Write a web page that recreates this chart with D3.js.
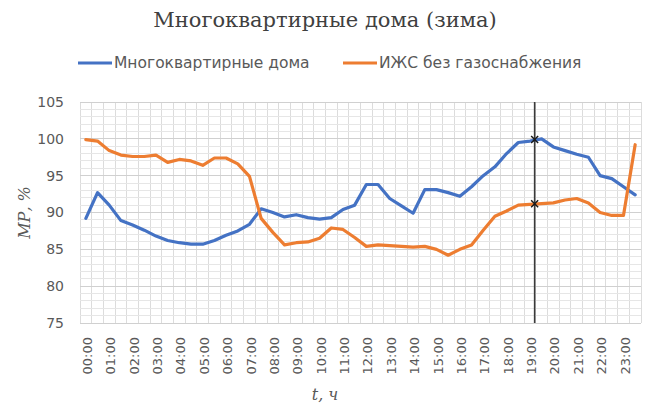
<!DOCTYPE html>
<html>
<head>
<meta charset="utf-8">
<script src="https://cdn.jsdelivr.net/npm/d3@7"></script>
<style>
  html, body { margin: 0; padding: 0; background: #fff; }
  svg { display: block; }
</style>
</head>
<body>
<svg id="chart" width="650" height="405"></svg>
<script>
// Half-hour time slots of the day
const times = [
  "00:00","00:30","01:00","01:30","02:00","02:30","03:00","03:30",
  "04:00","04:30","05:00","05:30","06:00","06:30","07:00","07:30",
  "08:00","08:30","09:00","09:30","10:00","10:30","11:00","11:30",
  "12:00","12:30","13:00","13:30","14:00","14:30","15:00","15:30",
  "16:00","16:30","17:00","17:30","18:00","18:30","19:00","19:30",
  "20:00","20:30","21:00","21:30","22:00","22:30","23:00","23:30"
];

// Load profile, % of maximum
const apartments = [
  89.2, 92.7, 91.0, 88.9, 88.3, 87.6, 86.8, 86.2, 85.9, 85.7, 85.7, 86.2,
  86.9, 87.5, 88.4, 90.5, 90.0, 89.4, 89.7, 89.3, 89.1, 89.3, 90.4, 91.0,
  93.8, 93.8, 91.9, 90.9, 89.9, 93.1, 93.1, 92.7, 92.2, 93.5, 95.0, 96.2,
  98.0, 99.5, 99.7, 100.0, 98.9, 98.4, 97.9, 97.5, 95.0, 94.6, 93.5, 92.4
];
const privateHouses = [
  99.9, 99.7, 98.4, 97.8, 97.6, 97.6, 97.8, 96.8, 97.2, 97.0, 96.4, 97.4,
  97.4, 96.6, 94.9, 89.2, 87.3, 85.6, 85.9, 86.0, 86.5, 87.9, 87.7, 86.6,
  85.4, 85.6, 85.5, 85.4, 85.3, 85.4, 85.0, 84.2, 85.0, 85.6, 87.6, 89.5,
  90.2, 91.0, 91.1, 91.2, 91.3, 91.7, 91.9, 91.3, 90.0, 89.6, 89.6, 99.2
];

const seriesNames = ["Многоквартирные дома", "ИЖС без газоснабжения"];
const seriesColors = ["#4472C4", "#ED7D31"];

// Hour labels on the time axis
const hourLabels = [
  "00:00","01:00","02:00","03:00","04:00","05:00","06:00","07:00",
  "08:00","09:00","10:00","11:00","12:00","13:00","14:00","15:00",
  "16:00","17:00","18:00","19:00","20:00","21:00","22:00","23:00"
];
const yTicks = [75, 80, 85, 90, 95, 100, 105];

// Evening peak marker
const peakHour = 19.2;
const peakValues = [99.9, 91.2];

const toHours = s => { const [h, m] = s.split(":").map(Number); return h + m / 60; };

const svg = d3.select("#chart");
const W = 650, H = 405;
const plot = { left: 80, right: 641, top: 102, bottom: 323 };

const x = d3.scaleLinear().domain([-0.25, 23.75]).range([plot.left, plot.right]);
const y = d3.scaleLinear().domain([75, 105]).range([plot.bottom, plot.top]);

const textGray = "#595959";
const sans = "'DejaVu Sans', Verdana, sans-serif";
const serif = "'DejaVu Serif', 'Liberation Serif', serif";

// Gridlines: vertical at half-hour slot boundaries, horizontal every 1 %
const grid = svg.append("g");
const vLines = d3.range(49).map(i => -0.25 + i * 0.5);
grid.selectAll("line.v").data(vLines).join("line")
  .attr("x1", d => x(d)).attr("x2", d => x(d))
  .attr("y1", plot.top).attr("y2", plot.bottom)
  .attr("stroke", "#dcdcdc").attr("stroke-width", 1)
  .attr("shape-rendering", "crispEdges");
const hMinor = d3.range(75, 106, 1);
grid.selectAll("line.h").data(hMinor).join("line")
  .attr("x1", plot.left).attr("x2", plot.right)
  .attr("y1", d => y(d)).attr("y2", d => y(d))
  .attr("stroke", d => d % 5 === 0 ? "#d0d0d0" : "#e6e6e6").attr("stroke-width", 1)
  .attr("shape-rendering", "crispEdges");

// Y axis labels
const yAxis = d3.axisLeft(y).tickValues(yTicks).tickSize(0).tickPadding(0);
const gy = svg.append("g").attr("transform", `translate(${plot.left - 16},0)`).call(yAxis);
gy.select(".domain").remove();
gy.selectAll("text").attr("font-family", sans)
  .attr("font-size", 14).attr("fill", textGray);

// X axis labels (rotated)
const xAxis = d3.axisBottom(x).tickValues(hourLabels.map(toHours)).tickSize(0)
  .tickFormat((d, i) => hourLabels[i]);
const gx = svg.append("g").attr("transform", `translate(0,${plot.bottom})`).call(xAxis);
gx.select(".domain").remove();
gx.selectAll("text")
  .attr("font-family", sans)
  .attr("font-size", 13).attr("fill", textGray)
  .attr("transform", "rotate(-90)")
  .attr("text-anchor", "end")
  .attr("x", -14).attr("y", 1).attr("dy", "0.35em");

// Series lines
const series = [apartments, privateHouses];
const line = d3.line()
  .x((d, i) => x(toHours(times[i])))
  .y(d => y(d));
svg.append("g").selectAll("path").data(series).join("path")
  .attr("d", d => line(d))
  .attr("fill", "none")
  .attr("stroke", (d, i) => seriesColors[i])
  .attr("stroke-width", 3.2)
  .attr("stroke-linejoin", "round")
  .attr("stroke-linecap", "round");

// Vertical marker line at the evening peak
svg.append("line")
  .attr("x1", x(peakHour)).attr("x2", x(peakHour))
  .attr("y1", plot.top).attr("y2", plot.bottom)
  .attr("stroke", "#3a3a3a").attr("stroke-width", 1.6);

// Cross markers on both curves
const cross = svg.append("g").selectAll("g").data(peakValues).join("g")
  .attr("transform", d => `translate(${x(peakHour)},${y(d)})`);
cross.append("path")
  .attr("d", "M-3.5,-3.5L3.5,3.5M-3.5,3.5L3.5,-3.5")
  .attr("stroke", "#1a1a1a").attr("stroke-width", 1.5);

// Title
svg.append("text")
  .attr("x", W / 2).attr("y", 27)
  .attr("text-anchor", "middle")
  .attr("font-family", serif)
  .attr("font-size", 21).attr("fill", "#404040")
  .text("Многоквартирные дома (зима)");

// Legend
const legend = svg.append("g");
const legendItems = [
  { x: 78, name: seriesNames[0], color: seriesColors[0] },
  { x: 343, name: seriesNames[1], color: seriesColors[1] }
];
const li = legend.selectAll("g").data(legendItems).join("g")
  .attr("transform", d => `translate(${d.x},63)`);
li.append("line").attr("x1", 0).attr("x2", 34).attr("y1", 0).attr("y2", 0)
  .attr("stroke", d => d.color).attr("stroke-width", 3.2);
li.append("text").attr("x", 36).attr("y", 0).attr("dy", "0.35em")
  .attr("font-family", sans)
  .attr("font-size", 15.5).attr("fill", textGray)
  .text(d => d.name);

// Axis titles
svg.append("text")
  .attr("transform", `translate(30,${(plot.top + plot.bottom) / 2}) rotate(-90)`)
  .attr("text-anchor", "middle")
  .attr("font-family", serif)
  .attr("font-style", "italic")
  .attr("font-size", 16).attr("fill", textGray)
  .text("МР, %");
svg.append("text")
  .attr("x", W / 2).attr("y", 400)
  .attr("text-anchor", "middle")
  .attr("font-family", serif)
  .attr("font-style", "italic")
  .attr("font-size", 16).attr("fill", textGray)
  .text("t, ч");
</script>
</body>
</html>
